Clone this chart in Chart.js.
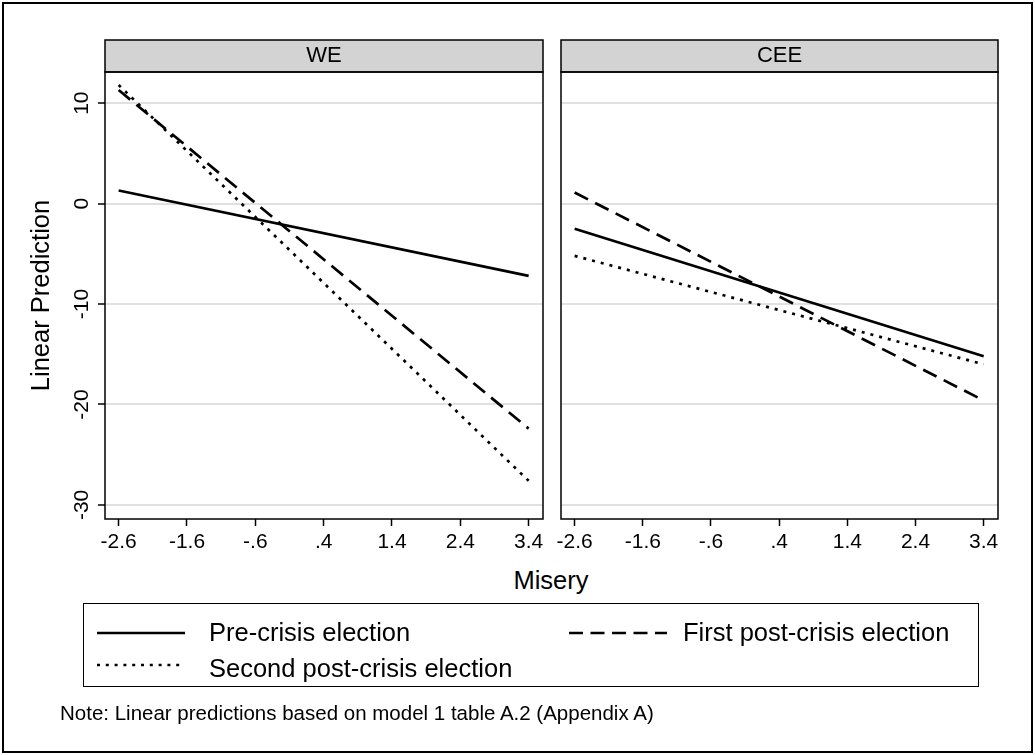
<!DOCTYPE html>
<html>
<head>
<meta charset="utf-8">
<script src="https://cdn.jsdelivr.net/npm/chart.js@4.4.1/dist/chart.umd.min.js"></script>
<style>
  body { margin: 0; background: #fff; font-family: "Liberation Sans", Arial, sans-serif; }
  #frame { position: absolute; left: 2px; top: 2px; width: 1027px; height: 747px; border: 2px solid #000; }
  canvas { position: absolute; top: 0; }
  .txt { position: absolute; line-height: 1; white-space: nowrap; color: #000; }
  #legend { position: absolute; left: 83px; top: 603px; width: 894px; height: 82px; border: 1.5px solid #000; }
  #legendSvg { position: absolute; left: 0; top: 0; }
</style>
</head>
<body>
<div id="frame"></div>
<canvas id="we" width="555" height="560" style="left:0px"></canvas>
<canvas id="cee" width="469" height="560" style="left:541px"></canvas>
<div class="txt" style="left:551px; top:568px; font-size:25.5px; transform:translateX(-50%)">Misery</div>
<div id="legend"></div>
<svg id="legendSvg" width="1035" height="755">
  <line x1="97" y1="633" x2="185" y2="633" stroke="#000" stroke-width="2.7"/>
  <line x1="569" y1="633" x2="667" y2="633" stroke="#000" stroke-width="2.7" stroke-dasharray="14 7.5"/>
  <line x1="97" y1="665" x2="185" y2="665" stroke="#000" stroke-width="2.7" stroke-dasharray="3 5.8"/>
</svg>
<div class="txt" style="left:209px; top:620px; font-size:25.5px">Pre-crisis election</div>
<div class="txt" style="left:683px; top:620px; font-size:25.5px">First post-crisis election</div>
<div class="txt" style="left:209px; top:656px; font-size:25.5px">Second post-crisis election</div>
<div class="txt" style="left:60px; top:703px; font-size:20.5px">Note: Linear predictions based on model 1 table A.2 (Appendix A)</div>
<script>
// misery at the two ends of each line
const xEnds = [-2.6, 3.4];
const xTicks = [-2.6, -1.6, -0.6, 0.4, 1.4, 2.4, 3.4];
const xTickLabels = ['-2.6', '-1.6', '-.6', '.4', '1.4', '2.4', '3.4'];
const yTicks = [-30, -20, -10, 0, 10];
const yTickLabels = ['-30', '-20', '-10', '0', '10'];

// WE panel
const preWE = [1.3, -7.2];
const firstWE = [11.3, -22.4];
const secondWE = [11.8, -27.6];
// CEE panel
const preCEE = [-2.5, -15.2];
const firstCEE = [1.1, -19.6];
const secondCEE = [-5.2, -16.0];

const FONT = '"Liberation Sans", Arial, sans-serif';

const panelFrame = {
    id: 'panelFrame',
    afterDraw(chart, args, opts) {
        const { ctx, chartArea: a } = chart;
        ctx.save();
        ctx.fillStyle = '#d3d3d3';
        ctx.fillRect(a.left, 40, a.right - a.left, a.top - 40);
        ctx.strokeStyle = '#000';
        ctx.lineWidth = 1.5;
        ctx.strokeRect(a.left, 40, a.right - a.left, a.top - 40);
        ctx.strokeRect(a.left, a.top, a.right - a.left, a.bottom - a.top);
        ctx.fillStyle = '#000';
        ctx.font = '22px ' + FONT;
        ctx.textAlign = 'center';
        ctx.textBaseline = 'alphabetic';
        ctx.fillText(opts.title, (a.left + a.right) / 2, 61.5);
        ctx.restore();
    }
};

function toPoints(vals) {
    return xEnds.map((x, i) => ({ x: x, y: vals[i] }));
}

function makeDatasets(pre, first, second) {
    return [{
        label: 'Pre-crisis election',
        data: toPoints(pre),
        borderColor: '#000',
        borderWidth: 2.7
    }, {
        label: 'First post-crisis election',
        data: toPoints(first),
        borderColor: '#000',
        borderWidth: 2.7,
        borderDash: [15, 8]
    }, {
        label: 'Second post-crisis election',
        data: toPoints(second),
        borderColor: '#000',
        borderWidth: 2.7,
        borderDash: [3, 6]
    }];
}

function makePanel(id, title, datasets, showY, yWidth) {
    return new Chart(document.getElementById(id), {
        type: 'line',
        data: { datasets: datasets },
        plugins: [panelFrame],
        options: {
            responsive: false,
            animation: false,
            devicePixelRatio: 1,
            layout: { padding: { top: 72, right: 12, left: 0, bottom: 0 } },
            elements: { point: { radius: 0 }, line: { tension: 0 } },
            plugins: {
                legend: { display: false },
                tooltip: { enabled: false },
                panelFrame: { title: title }
            },
            scales: {
                x: {
                    type: 'linear',
                    min: -2.8,
                    max: 3.61,
                    afterBuildTicks: (axis) => { axis.ticks = xTicks.map(v => ({ value: v })); },
                    afterFit: (axis) => { axis.height = 41; },
                    border: { display: false },
                    grid: { drawOnChartArea: false, tickColor: '#000', tickLength: 7, tickWidth: 1.5 },
                    ticks: {
                        color: '#000',
                        font: { family: FONT, size: 21 },
                        padding: 4,
                        maxRotation: 0,
                        autoSkip: false,
                        callback: (v, i) => xTickLabels[i]
                    }
                },
                y: {
                    type: 'linear',
                    min: -31.4,
                    max: 13.1,
                    afterBuildTicks: (axis) => { axis.ticks = yTicks.map(v => ({ value: v })); },
                    afterFit: (axis) => { axis.width = yWidth; },
                    border: { display: false },
                    grid: {
                        color: '#e0e0e0',
                        lineWidth: 2,
                        drawTicks: showY,
                        tickColor: '#000',
                        tickLength: 7,
                        tickWidth: 1.5
                    },
                    title: {
                        display: showY,
                        text: 'Linear Prediction',
                        color: '#000',
                        font: { family: FONT, size: 25.5 },
                        padding: { top: 27, bottom: 0 }
                    },
                    ticks: {
                        display: showY,
                        color: '#000',
                        font: { family: FONT, size: 21 },
                        minRotation: 90,
                        maxRotation: 90,
                        crossAlign: 'center',
                        padding: 1,
                        callback: (v, i) => yTickLabels[i]
                    }
                }
            }
        }
    });
}

makePanel('we', 'WE', makeDatasets(preWE, firstWE, secondWE), true, 105);
makePanel('cee', 'CEE', makeDatasets(preCEE, firstCEE, secondCEE), false, 20);
</script>
</body>
</html>
